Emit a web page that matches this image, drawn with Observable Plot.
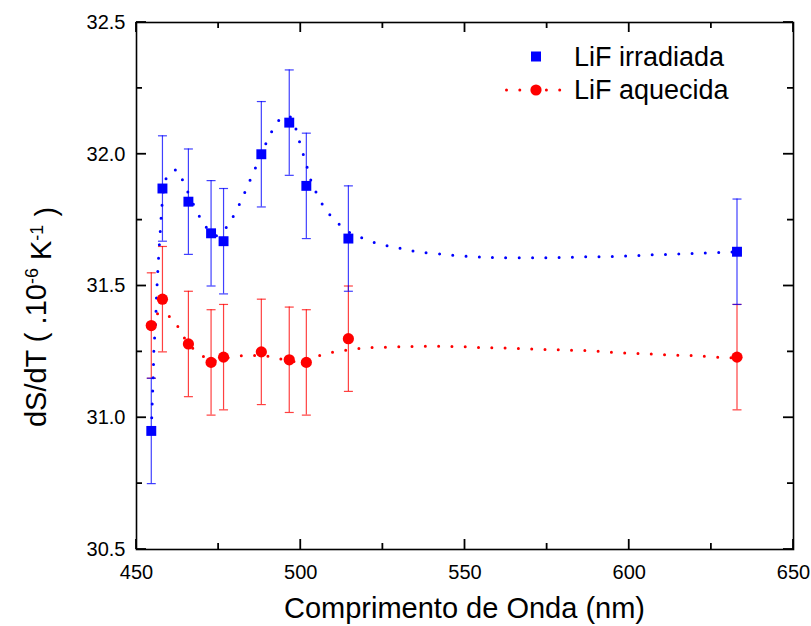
<!DOCTYPE html>
<html>
<head>
<meta charset="utf-8">
<script src="https://cdn.jsdelivr.net/npm/d3@7"></script>
<script src="https://cdn.jsdelivr.net/npm/@observablehq/plot@0.6"></script>
<style>
html, body { margin: 0; padding: 0; background: #fff; }
#wrap { position: relative; width: 811px; height: 626px; font-family: "Liberation Sans", Arial, sans-serif; }
#wrap svg { display: block; }
</style>
</head>
<body>
<div id="wrap"></div>
<script>
// Wavelengths (nm)
const wavelengths = [454.5, 457.9, 465.8, 472.7, 476.5, 488.0, 496.5, 501.7, 514.5, 632.8];
// dS/dT values (10^-6 K^-1)
const irradiada = [30.95, 31.87, 31.82, 31.70, 31.67, 32.00, 32.12, 31.88, 31.68, 31.63];
const aquecida  = [31.35, 31.45, 31.28, 31.21, 31.23, 31.25, 31.22, 31.21, 31.30, 31.23];
const errIrradiada = [0.2, 0.2, 0.2, 0.2, 0.2, 0.2, 0.2, 0.2, 0.2, 0.2];
const errAquecida  = [0.2, 0.2, 0.2, 0.2, 0.2, 0.2, 0.2, 0.2, 0.2, 0.2];

// Dotted fitted curves
const blueFitX = [454.5, 454.8, 455.1, 455.3, 455.8, 456.1, 456.5, 457.3, 457.9, 459.5, 462.4, 464.4, 468.5, 470.8, 474.6, 477.8, 480.1, 482.1, 483.8, 485.6, 487.3, 489.0, 490.9, 493.4, 495.2, 497.0, 498.7, 499.8, 501.0, 502.2, 503.4, 505.3, 507.6, 511.2, 515.2, 519.2, 523.5, 527.4, 531.4, 535.7, 543.6, 551.8, 560.1, 572.3, 584.4, 596.6, 608.8, 620.9, 632.8];
const blueFitY = [30.95, 31.06, 31.16, 31.26, 31.36, 31.46, 31.56, 31.72, 31.82, 31.92, 31.94, 31.89, 31.78, 31.73, 31.69, 31.73, 31.78, 31.83, 31.88, 31.93, 31.98, 32.03, 32.08, 32.13, 32.145, 32.14, 32.09, 32.04, 31.99, 31.94, 31.89, 31.84, 31.79, 31.74, 31.70, 31.68, 31.66, 31.65, 31.64, 31.63, 31.62, 31.612, 31.608, 31.607, 31.610, 31.613, 31.619, 31.624, 31.63];
const redFitX = [454.5, 457.0, 460.9, 463.8, 465.8, 470.7, 472.7, 475.1, 478.9, 482.9, 487.0, 491.1, 495.0, 499.2, 503.3, 507.3, 511.3, 515.5, 519.5, 523.6, 531.7, 539.9, 548.0, 556.1, 564.2, 572.4, 580.3, 588.4, 596.6, 604.7, 612.8, 620.9, 629.1, 632.8];
const redFitY = [31.35, 31.40, 31.375, 31.32, 31.28, 31.23, 31.215, 31.22, 31.23, 31.236, 31.236, 31.232, 31.22, 31.213, 31.226, 31.242, 31.252, 31.259, 31.265, 31.267, 31.270, 31.271, 31.270, 31.266, 31.264, 31.260, 31.257, 31.254, 31.247, 31.243, 31.238, 31.235, 31.228, 31.228];

// Axis ticks
const xMajor = [450, 500, 550, 600, 650];
const xMinor = [475, 525, 575, 625];
const yMajor = [30.5, 31.0, 31.5, 32.0, 32.5];
const yMinor = [30.75, 31.25, 31.75, 32.25];

const seriesNames = ["LiF irradiada", "LiF aquecida"];
const xTitle = "Comprimento de Onda (nm)";

const points = wavelengths.map((w, i) => ({w, irr: irradiada[i], eIrr: errIrradiada[i], aq: aquecida[i], eAq: errAquecida[i]}));
const blueFit = blueFitX.map((x, i) => ({x, y: blueFitY[i]}));
const redFit = redFitX.map((x, i) => ({x, y: redFitY[i]}));

const BLUE = "#0000ff", RED = "#ff0000";
const FONT = "'Liberation Sans', Arial, sans-serif";

// horizontal line symbol for error-bar caps
const hLine = { draw(ctx, size) { const r = Math.sqrt(size / Math.PI); ctx.moveTo(-r, 0); ctx.lineTo(r, 0); } };
const dotted = {strokeWidth: 3, strokeDasharray: "0,13.3", strokeLinecap: "round", curve: "catmull-rom"};

const chart = Plot.plot({
  width: 811, height: 626,
  marginLeft: 136, marginRight: 18, marginTop: 22, marginBottom: 77,
  style: {fontFamily: FONT, background: "white", color: "black"},
  x: {domain: [450, 650]},
  y: {domain: [30.5, 32.5]},
  marks: [
    Plot.axisX({ticks: xMajor, tickSize: 0, tickPadding: 15, fontSize: 20, label: null, tickFormat: d => String(d)}),
    Plot.axisY({ticks: yMajor, tickSize: 0, tickPadding: 11, fontSize: 20, label: null, tickFormat: d3.format(".1f")}),
    // error bars
    Plot.ruleX(points, {x: "w", y1: d => d.aq - d.eAq, y2: d => d.aq + d.eAq, stroke: RED, strokeOpacity: 0.75, strokeWidth: 1.2}),
    Plot.dot(points, {x: "w", y: d => d.aq + d.eAq, symbol: hLine, r: 4.5, stroke: RED, strokeOpacity: 0.75, strokeWidth: 1.2, fill: "none"}),
    Plot.dot(points, {x: "w", y: d => d.aq - d.eAq, symbol: hLine, r: 4.5, stroke: RED, strokeOpacity: 0.75, strokeWidth: 1.2, fill: "none"}),
    Plot.ruleX(points, {x: "w", y1: d => d.irr - d.eIrr, y2: d => d.irr + d.eIrr, stroke: BLUE, strokeOpacity: 0.75, strokeWidth: 1.2}),
    Plot.dot(points, {x: "w", y: d => d.irr + d.eIrr, symbol: hLine, r: 4.5, stroke: BLUE, strokeOpacity: 0.75, strokeWidth: 1.2, fill: "none"}),
    Plot.dot(points, {x: "w", y: d => d.irr - d.eIrr, symbol: hLine, r: 4.5, stroke: BLUE, strokeOpacity: 0.75, strokeWidth: 1.2, fill: "none"}),
    // fitted dotted curves
    Plot.line(redFit, {x: "x", y: "y", stroke: RED, ...dotted}),
    Plot.line(blueFit, {x: "x", y: "y", stroke: BLUE, ...dotted}),
    // markers
    Plot.dot(points, {x: "w", y: "aq", r: 5.6, fill: RED, stroke: "none"}),
    Plot.dot(points, {x: "w", y: "irr", symbol: "square", r: 5.6, fill: BLUE, stroke: "none"}),
    Plot.frame({stroke: "black", strokeWidth: 1.6})
  ]
});

const wrap = document.getElementById("wrap");
wrap.appendChild(chart);
const svg = d3.select(chart);

// inward ticks on all four sides, placed through the plot's own scales
const sx = chart.scale("x"), sy = chart.scale("y");
const xLeft = Math.min(...sx.range), xRight = Math.max(...sx.range);
const yTop = Math.min(...sy.range), yBottom = Math.max(...sy.range);
const tg = svg.append("g").attr("stroke", "black").attr("stroke-width", 1.8);
const xs = [...xMajor.map(v => [v, 10]), ...xMinor.map(v => [v, 6])];
const ys = [...yMajor.map(v => [v, 10]), ...yMinor.map(v => [v, 6])];
for (const [v, len] of xs) {
  const px = sx.apply(v);
  tg.append("line").attr("x1", px).attr("x2", px).attr("y1", yBottom).attr("y2", yBottom - len);
  tg.append("line").attr("x1", px).attr("x2", px).attr("y1", yTop).attr("y2", yTop + len);
}
for (const [v, len] of ys) {
  const py = sy.apply(v);
  tg.append("line").attr("y1", py).attr("y2", py).attr("x1", xLeft).attr("x2", xLeft + len);
  tg.append("line").attr("y1", py).attr("y2", py).attr("x1", xRight).attr("x2", xRight - len);
}

// axis titles
svg.append("text").attr("x", (xLeft + xRight) / 2).attr("y", 618).attr("text-anchor", "middle")
  .attr("font-family", FONT).attr("font-size", 29).attr("fill", "black").text(xTitle);
const yt = svg.append("text").attr("transform", "translate(46,317) rotate(-90)").attr("text-anchor", "middle")
  .attr("font-family", FONT).attr("font-size", 29).attr("fill", "black");
yt.append("tspan").text("dS/dT ( .10");
yt.append("tspan").attr("dy", "-0.45em").attr("font-size", 18).text("-6");
yt.append("tspan").attr("dy", "0.45em").text(" K");
yt.append("tspan").attr("dy", "-0.45em").attr("font-size", 18).text("-1");
yt.append("tspan").attr("dy", "0.45em").text(" )");

// legend
const lg = svg.append("g").attr("font-family", FONT).attr("font-size", 27).attr("fill", "black").attr("text-anchor", "start");
lg.append("rect").attr("x", 531).attr("y", 51.5).attr("width", 10).attr("height", 10).attr("fill", BLUE);
lg.append("text").attr("x", 574).attr("y", 66).text(seriesNames[0]);
lg.append("line").attr("x1", 506.5).attr("x2", 562).attr("y1", 90).attr("y2", 90)
  .attr("stroke", RED).attr("stroke-width", 3).attr("stroke-dasharray", "0,13.3").attr("stroke-linecap", "round");
lg.append("circle").attr("cx", 536).attr("cy", 90).attr("r", 5.6).attr("fill", RED);
lg.append("text").attr("x", 574).attr("y", 99).text(seriesNames[1]);
</script>
</body>
</html>
